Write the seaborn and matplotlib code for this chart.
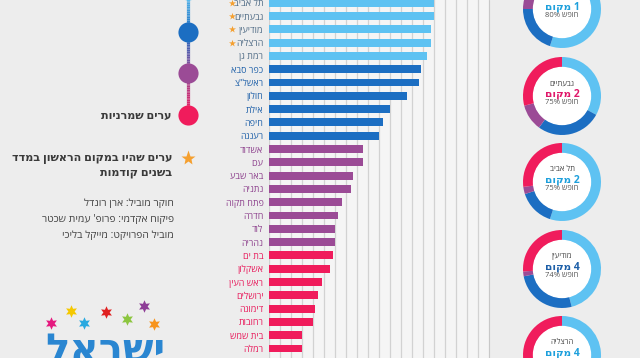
import numpy as np
import pandas as pd
import matplotlib
matplotlib.use('Agg')
import matplotlib.pyplot as plt
import seaborn as sns
from matplotlib.collections import LineCollection
from matplotlib.colors import to_rgb
from matplotlib.patches import Circle


def heb(s):
    # matplotlib draws left to right, so flip the Hebrew text
    return s[::-1]


# --- data -------------------------------------------------------------
cities = ['תל אביב', 'גבעתיים', 'מודיעין', 'הרצליה', 'רמת גן',
          'כפר סבא', 'ראשל"צ', 'חולון', 'אילת', 'חיפה', 'רעננה',
          'אשדוד', 'עכו', 'באר שבע', 'נתניה', 'פתח תקוה', 'חדרה', 'לוד', 'נהריה',
          'בת ים', 'אשקלון', 'ראש העין', 'ירושלים', 'דימונה', 'רחובות',
          'בית שמש', 'רמלה', 'בני ברק']
scores = [75.0, 75.0, 73.6, 73.6, 71.7,
          68.9, 68.2, 62.6, 55.0, 51.7, 50.1,
          42.9, 42.9, 38.2, 37.1, 33.0, 31.2, 30.0, 30.0,
          29.1, 27.9, 23.9, 22.1, 21.1, 20.0, 15.0, 15.0, 5.0]
groups = ['liberal'] * 5 + ['mod_liberal'] * 6 + ['mod_conservative'] * 8 + ['conservative'] * 9
starred = ['תל אביב', 'גבעתיים', 'מודיעין', 'הרצליה']

donut_names = ['', 'גבעתיים', 'תל אביב', 'מודיעין', 'הרצליה']
donut_rank = [1, 2, 2, 4, 4]
donut_freedom = [80, 75, 75, 74, 74]
share_liberal = [0.55, 0.33, 0.55, 0.46, 0.48]
share_mod_liberal = [0.20, 0.27, 0.15, 0.26, 0.22]
share_mod_conservative = [0.08, 0.11, 0.03, 0.02, 0.03]
share_conservative = [0.17, 0.29, 0.27, 0.26, 0.27]

credits = ['חוקר מוביל: ארן רונדל',
           "פיקוח אקדמי: פרופ' עמית שכטר",
           'מוביל הפרויקט: מייקל בליכי']

# --- style ------------------------------------------------------------
LB, DB, PU, PK = '#5ec2f2', '#1c6ec2', '#9b4b96', '#f01c5c'
palette = {'liberal': LB, 'mod_liberal': DB, 'mod_conservative': PU, 'conservative': PK}
label_colors = {'liberal': '#4f6b85', 'mod_liberal': '#1d5fa8',
                'mod_conservative': '#8c3f8c', 'conservative': '#e8185a'}
ORANGE = '#f5a030'
PAPER = '#ededed'

sns.set_theme(style='white')
plt.rcParams['font.family'] = ['Open Sans', 'DejaVu Sans']

W, H = 640, 358
fig = plt.figure(figsize=(W / 100, H / 100), dpi=100, facecolor=PAPER)


def px_box(left, top, right, bottom):
    return [left / W, (H - bottom) / H, (right - left) / W, (bottom - top) / H]


# background layer in pixel coordinates for the side panels
ax_bg = fig.add_axes([0, 0, 1, 1], zorder=0)
ax_bg.set_xlim(0, W)
ax_bg.set_ylim(H, 0)
ax_bg.axis('off')

# --- bar chart --------------------------------------------------------
df = pd.DataFrame({'city': [heb(c) for c in cities], 'score': scores, 'group': groups})
n = len(cities)
pitch = 13.3
first_center = 2.7
ax = fig.add_axes(px_box(269, first_center - pitch * 0.5, 489, first_center + pitch * (n - 0.5)), zorder=1)
ax.set_facecolor('#f5f5f5')
sns.barplot(data=df, x='score', y='city', hue='group', palette=palette, dodge=False,
            legend=False, width=0.6, saturation=1, linewidth=0, orient='h', ax=ax)
ax.set_xlim(0, 100)
ax.set_ylim(n - 0.5, -0.5)
ax.set_xticks(np.arange(0, 101, 5))
ax.xaxis.grid(True, color='#d2d2d2', linewidth=0.9)
ax.yaxis.grid(False)
ax.set_axisbelow(True)
ax.tick_params(axis='x', length=0, labelbottom=False)
ax.tick_params(axis='y', length=0, pad=4, labelsize=6.5)
ax.set_xlabel('')
ax.set_ylabel('')
for s in ax.spines.values():
    s.set_visible(False)
for lab, g in zip(ax.get_yticklabels(), groups):
    lab.set_color(label_colors[g])

star_rows = [cities.index(c) for c in starred]
ax.scatter([-16.8] * len(star_rows), star_rows, marker='*', s=28, color=ORANGE,
           clip_on=False, zorder=5, linewidths=0)

# separator line on the right
ax_bg.plot([489, 489], [0, H], color='#c8c8c8', lw=0.8)

# --- left legend ------------------------------------------------------
xs = 188
stops = [(-10, LB), (32, DB), (73, PU), (115, PK)]
segs, cols = [], []
for (y0, c0), (y1, c1) in zip(stops[:-1], stops[1:]):
    ys = np.linspace(y0, y1, 25)
    for a, b, t in zip(ys[:-1], ys[1:], np.linspace(0, 1, 24)):
        segs.append([(xs, a), (xs, b)])
        cols.append(tuple((1 - t) * np.array(to_rgb(c0)) + t * np.array(to_rgb(c1))))
ax_bg.add_collection(LineCollection(segs, colors=cols, linewidths=2.3, capstyle='butt'))
for y, c in stops:
    ax_bg.plot(xs, y, 'o', ms=14.5, color=c, mec='none')

ax_bg.text(171, 116, heb('ערים שמרניות'), ha='right', va='center', fontsize=8,
           color='#3a3a3a', fontweight='semibold')
ax_bg.plot(xs, 158, marker='*', ms=11, color=ORANGE, mec='none')
ax_bg.text(172, 158, heb('ערים שהיו במקום הראשון במדד'), ha='right', va='center',
           fontsize=8, color='#3a3a3a', fontweight='semibold')
ax_bg.text(172, 173, heb('בשנים קודמות'), ha='right', va='center',
           fontsize=8, color='#3a3a3a', fontweight='semibold')
for i, line in enumerate(credits):
    ax_bg.text(174, 203 + 16 * i, heb(line), ha='right', va='center',
               fontsize=7.5, color='#444444')

# logo
logo_stars = [(51, 323, '#e5197f'), (71, 311, '#f5c800'), (84, 323, '#29a9e0'),
              (106, 312, '#e02020'), (127, 319, '#8cc63f'), (144, 306, '#8e3d97'),
              (154, 324, '#f7941d')]
for x, y, c in logo_stars:
    ax_bg.plot(x, y, marker=(6, 1, 0), ms=9, color=c, mec='none')
ax_bg.text(105, 332, heb('ישראל'), ha='center', va='top', fontsize=29,
           fontweight='bold', color='#2a86d1')

# --- donuts -----------------------------------------------------------
ring_colors = [LB, DB, PU, PK]
rank_colors = ['#1ea0dc', '#e0186a', '#1ea0dc', '#1d5fa8', '#1ea0dc']
donut_cx = 562
donut_cy = [9, 96, 182, 269, 355]
R = 39
half = 41
for i in range(len(donut_rank)):
    cy = donut_cy[i]
    axd = fig.add_axes(px_box(donut_cx - half, cy - half, donut_cx + half, cy + half), zorder=2)
    shares = [share_liberal[i], share_mod_liberal[i], share_mod_conservative[i], share_conservative[i]]
    axd.pie(shares, colors=ring_colors, startangle=90, counterclock=False, radius=1,
            wedgeprops=dict(width=0.27, linewidth=0))
    axd.add_patch(Circle((0, 0), 0.73, color='white', zorder=3))
    axd.set_xlim(-half / R, half / R)
    axd.set_ylim(-half / R, half / R)
    axd.set_aspect('equal')
    axd.axis('off')
    if donut_names[i]:
        axd.text(0, 0.31, heb(donut_names[i]), ha='center', va='center', fontsize=5.5,
                 color='#444444', zorder=4)
    axd.text(0, 0.05, heb('מקום') + ' ' + str(donut_rank[i]), ha='center', va='center',
             fontsize=7.5, fontweight='bold', color=rank_colors[i], zorder=4)
    axd.text(0, -0.16, f'{donut_freedom[i]}% ' + heb('חופש'), ha='center', va='center',
             fontsize=5.5, color='#555555', zorder=4)

fig.savefig('out.png', dpi=100, facecolor=PAPER)
